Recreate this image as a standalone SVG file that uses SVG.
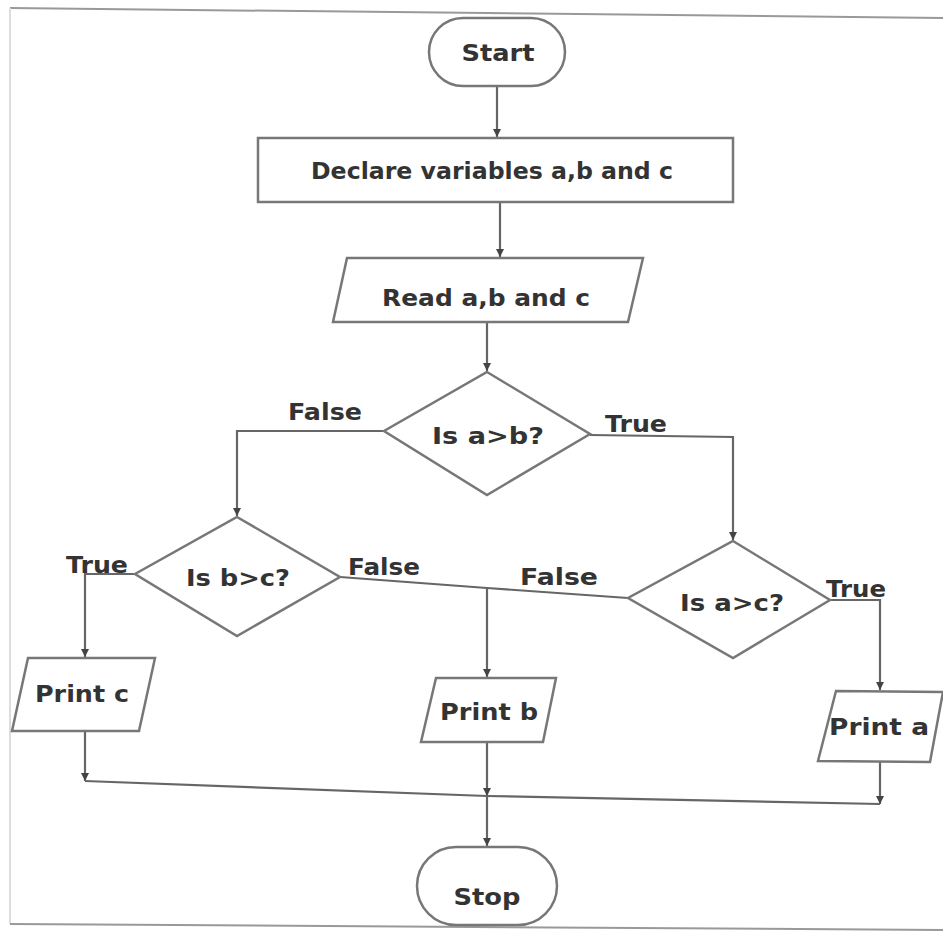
<svg xmlns="http://www.w3.org/2000/svg" width="943" height="934" viewBox="0 0 943 934">
<defs>
<marker id="arr" markerWidth="10" markerHeight="10" refX="9" refY="5" orient="auto" markerUnits="userSpaceOnUse">
<path d="M1,1 L9,5 L1,9 Z" fill="#444"/>
</marker>
<style>
.shape{fill:#fff;stroke:#777;stroke-width:2.5}
.line{fill:none;stroke:#666;stroke-width:2.2}
.frame{fill:none;stroke:#999;stroke-width:2}
.t{font-family:"DejaVu Sans",Verdana,sans-serif;font-weight:bold;fill:#333;text-anchor:middle;dominant-baseline:central;font-size:23px}
.lbl{font-family:"DejaVu Sans",Verdana,sans-serif;font-weight:bold;fill:#333;text-anchor:middle;font-size:23px}
</style>
</defs>
<rect width="943" height="934" fill="#fff"/>
<g id="frame">
<line class="frame" x1="10" y1="8" x2="943" y2="18"/>
<line class="frame" x1="10" y1="8" x2="10" y2="924" style="stroke:#ddd"/>
<line class="frame" x1="10" y1="924" x2="943" y2="930"/>
</g>
<g id="connectors">
<line class="line" x1="497" y1="86" x2="497" y2="137" marker-end="url(#arr)"/>
<line class="line" x1="500" y1="202" x2="500" y2="257" marker-end="url(#arr)"/>
<line class="line" x1="487" y1="322" x2="487" y2="371" marker-end="url(#arr)"/>
<polyline class="line" points="384,431 237,431 237,516" marker-end="url(#arr)"/>
<polyline class="line" points="590,435 733,437 733,540" marker-end="url(#arr)"/>
<polyline class="line" points="135,574 85,574 85,657" marker-end="url(#arr)"/>
<polyline class="line" points="340,577 487,588 628,598"/>
<line class="line" x1="487" y1="588" x2="487" y2="677" marker-end="url(#arr)"/>
<polyline class="line" points="830,600 880,600 880,690" marker-end="url(#arr)"/>
<line class="line" x1="85" y1="732" x2="85" y2="781" marker-end="url(#arr)"/>
<line class="line" x1="880" y1="762" x2="880" y2="804" marker-end="url(#arr)"/>
<line class="line" x1="487" y1="742" x2="487" y2="796" marker-end="url(#arr)"/>
<polyline class="line" points="85,781 487,796 880,804"/>
<line class="line" x1="487" y1="796" x2="487" y2="846" marker-end="url(#arr)"/>
</g>
<g id="start">
<rect class="shape" x="429" y="18" width="136" height="68" rx="34"/>
<text class="t" x="498" y="53" textLength="73" lengthAdjust="spacingAndGlyphs">Start</text>
</g>
<g id="declare">
<rect class="shape" x="258" y="138" width="475" height="64"/>
<text class="t" x="492" y="171" textLength="362" lengthAdjust="spacingAndGlyphs">Declare variables a,b and c</text>
</g>
<g id="read">
<polygon class="shape" points="347,258 643,258 628,322 333,322"/>
<text class="t" x="486" y="298" textLength="208" lengthAdjust="spacingAndGlyphs">Read a,b and c</text>
</g>
<g id="d1">
<polygon class="shape" points="487,372 590,434 487,495 384,431"/>
<text class="t" x="488" y="436" textLength="112" lengthAdjust="spacingAndGlyphs">Is a&gt;b?</text>
</g>
<g id="d2">
<polygon class="shape" points="237,517 340,577 237,636 135,574"/>
<text class="t" x="238" y="578" textLength="104" lengthAdjust="spacingAndGlyphs">Is b&gt;c?</text>
</g>
<g id="d3">
<polygon class="shape" points="733,541 830,600 733,658 628,598"/>
<text class="t" x="732" y="603" textLength="104" lengthAdjust="spacingAndGlyphs">Is a&gt;c?</text>
</g>
<g id="printc">
<polygon class="shape" points="28,658 155,658 139,731 12,731"/>
<text class="t" x="82" y="694" textLength="94" lengthAdjust="spacingAndGlyphs">Print c</text>
</g>
<g id="printb">
<polygon class="shape" points="436,678 556,678 543,742 421,742"/>
<text class="t" x="489" y="712" textLength="98" lengthAdjust="spacingAndGlyphs">Print b</text>
</g>
<g id="printa">
<polygon class="shape" points="836,691 943,692 930,762 818,761"/>
<text class="t" x="879" y="727" textLength="100" lengthAdjust="spacingAndGlyphs">Print a</text>
</g>
<g id="stop">
<rect class="shape" x="417" y="847" width="140" height="78" rx="39"/>
<text class="t" x="487" y="897" textLength="67" lengthAdjust="spacingAndGlyphs">Stop</text>
</g>
<g id="labels">
<text class="lbl" x="325" y="420" textLength="74" lengthAdjust="spacingAndGlyphs">False</text>
<text class="lbl" x="636" y="432" textLength="62" lengthAdjust="spacingAndGlyphs">True</text>
<text class="lbl" x="97" y="573" textLength="62" lengthAdjust="spacingAndGlyphs">True</text>
<text class="lbl" x="384" y="575" textLength="72" lengthAdjust="spacingAndGlyphs">False</text>
<text class="lbl" x="559" y="585" textLength="78" lengthAdjust="spacingAndGlyphs">False</text>
<text class="lbl" x="856" y="597" textLength="60" lengthAdjust="spacingAndGlyphs">True</text>
</g>
</svg>
